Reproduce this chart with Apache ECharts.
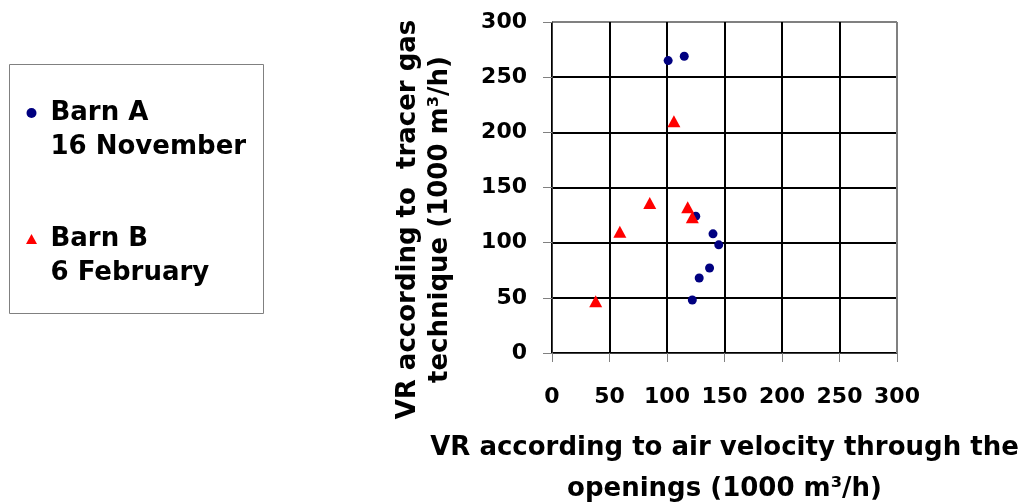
<!DOCTYPE html>
<html>
<head>
<meta charset="utf-8">
<title>VR comparison</title>
<script src="https://cdn.jsdelivr.net/npm/echarts@6/dist/echarts.min.js"></script>
<style>
html, body { margin: 0; padding: 0; background: #fff; }
#chart { width: 1028px; height: 502px; }
</style>
</head>
<body>
<div id="chart"></div>
<script>
// data (1000 m3/h)
const seriesNames = ['Barn A\n16 November', 'Barn B\n6 February'];
const barnAX = [101, 115, 125, 140, 145, 137, 128, 122];
const barnAY = [265, 269, 124, 108, 98, 77, 68, 48];
const barnBX = [106, 85, 118, 122, 59, 38];
const barnBY = [210, 136, 132, 123, 110, 47];

const font = "'DejaVu Sans', sans-serif";
const toPairs = (xs, ys) => xs.map((x, i) => [x, ys[i]]);
// last grid line is the grey plot border
const gridColors = ['#000', '#000', '#000', '#000', '#000', '#000', '#808080'];

const chart = echarts.init(document.getElementById('chart'));
const option = {
  animation: false,
  backgroundColor: '#fff',
  grid: {
    left: 552,
    right: 131,
    top: 22,
    bottom: 149,
    containLabel: false,
    outerBoundsMode: 'none'
  },
  legend: {
    orient: 'vertical',
    left: 18,
    top: 66,
    padding: [0, 0, 0, 8],
    itemWidth: 28,
    itemHeight: 10,
    itemGap: 32,
    symbolKeepAspect: true,
    selectedMode: false,
    // blank first line so the marker sits beside the first text line
    formatter: name => ['\u00a0'].concat(name.split('\n')).map(s => '{t|' + s + '}').join('\n'),
    textStyle: {
      rich: {
        t: {
          fontFamily: font,
          fontWeight: 'bold',
          fontSize: 26,
          lineHeight: 34,
          color: '#000'
        }
      }
    },
    data: [
      { name: seriesNames[0], icon: 'circle' },
      { name: seriesNames[1], icon: 'path://M0,10L5.5,0L11,10Z' }
    ]
  },
  graphic: [
    {
      type: 'rect',
      shape: { x: 9.5, y: 64.5, width: 254, height: 249 },
      style: { fill: 'none', stroke: '#808080', lineWidth: 1 }
    }
  ],
  xAxis: {
    type: 'value',
    min: 0,
    max: 300,
    interval: 50,
    name: 'VR according to air velocity through the\nopenings (1000 m³/h)',
    nameLocation: 'middle',
    nameGap: 75,
    nameTextStyle: {
      fontFamily: font,
      fontWeight: 'bold',
      fontSize: 26,
      lineHeight: 41,
      color: '#000'
    },
    axisLine: { lineStyle: { color: '#404040', width: 1 } },
    axisTick: { show: true, inside: false, length: 9, lineStyle: { color: '#808080' } },
    axisLabel: {
      margin: 33,
      fontFamily: font,
      fontWeight: 'bold',
      fontSize: 22,
      color: '#000'
    },
    splitLine: { show: true, lineStyle: { color: gridColors, width: 2 } }
  },
  yAxis: {
    type: 'value',
    min: 0,
    max: 300,
    interval: 50,
    name: 'VR according to  tracer gas\ntechnique (1000 m³/h)',
    nameLocation: 'middle',
    nameRotate: 90,
    nameGap: 96,
    nameTextStyle: {
      fontFamily: font,
      fontWeight: 'bold',
      fontSize: 26,
      lineHeight: 32,
      color: '#000',
      padding: [0, 64, 0, 0]
    },
    axisLine: { show: true, lineStyle: { color: '#404040', width: 1 } },
    axisTick: { show: true, inside: false, length: 9, lineStyle: { color: '#808080' } },
    axisLabel: {
      margin: 25,
      fontFamily: font,
      fontWeight: 'bold',
      fontSize: 22,
      color: '#000'
    },
    splitLine: { show: true, lineStyle: { color: gridColors, width: 2 } }
  },
  series: [
    {
      name: seriesNames[0],
      type: 'scatter',
      symbol: 'circle',
      symbolSize: 9,
      itemStyle: { color: '#000080', opacity: 1 },
      data: toPairs(barnAX, barnAY)
    },
    {
      name: seriesNames[1],
      type: 'scatter',
      symbol: 'triangle',
      symbolSize: [13, 12],
      itemStyle: { color: '#ff0000', opacity: 1 },
      data: toPairs(barnBX, barnBY)
    }
  ]
};
chart.setOption(option);
</script>
</body>
</html>
